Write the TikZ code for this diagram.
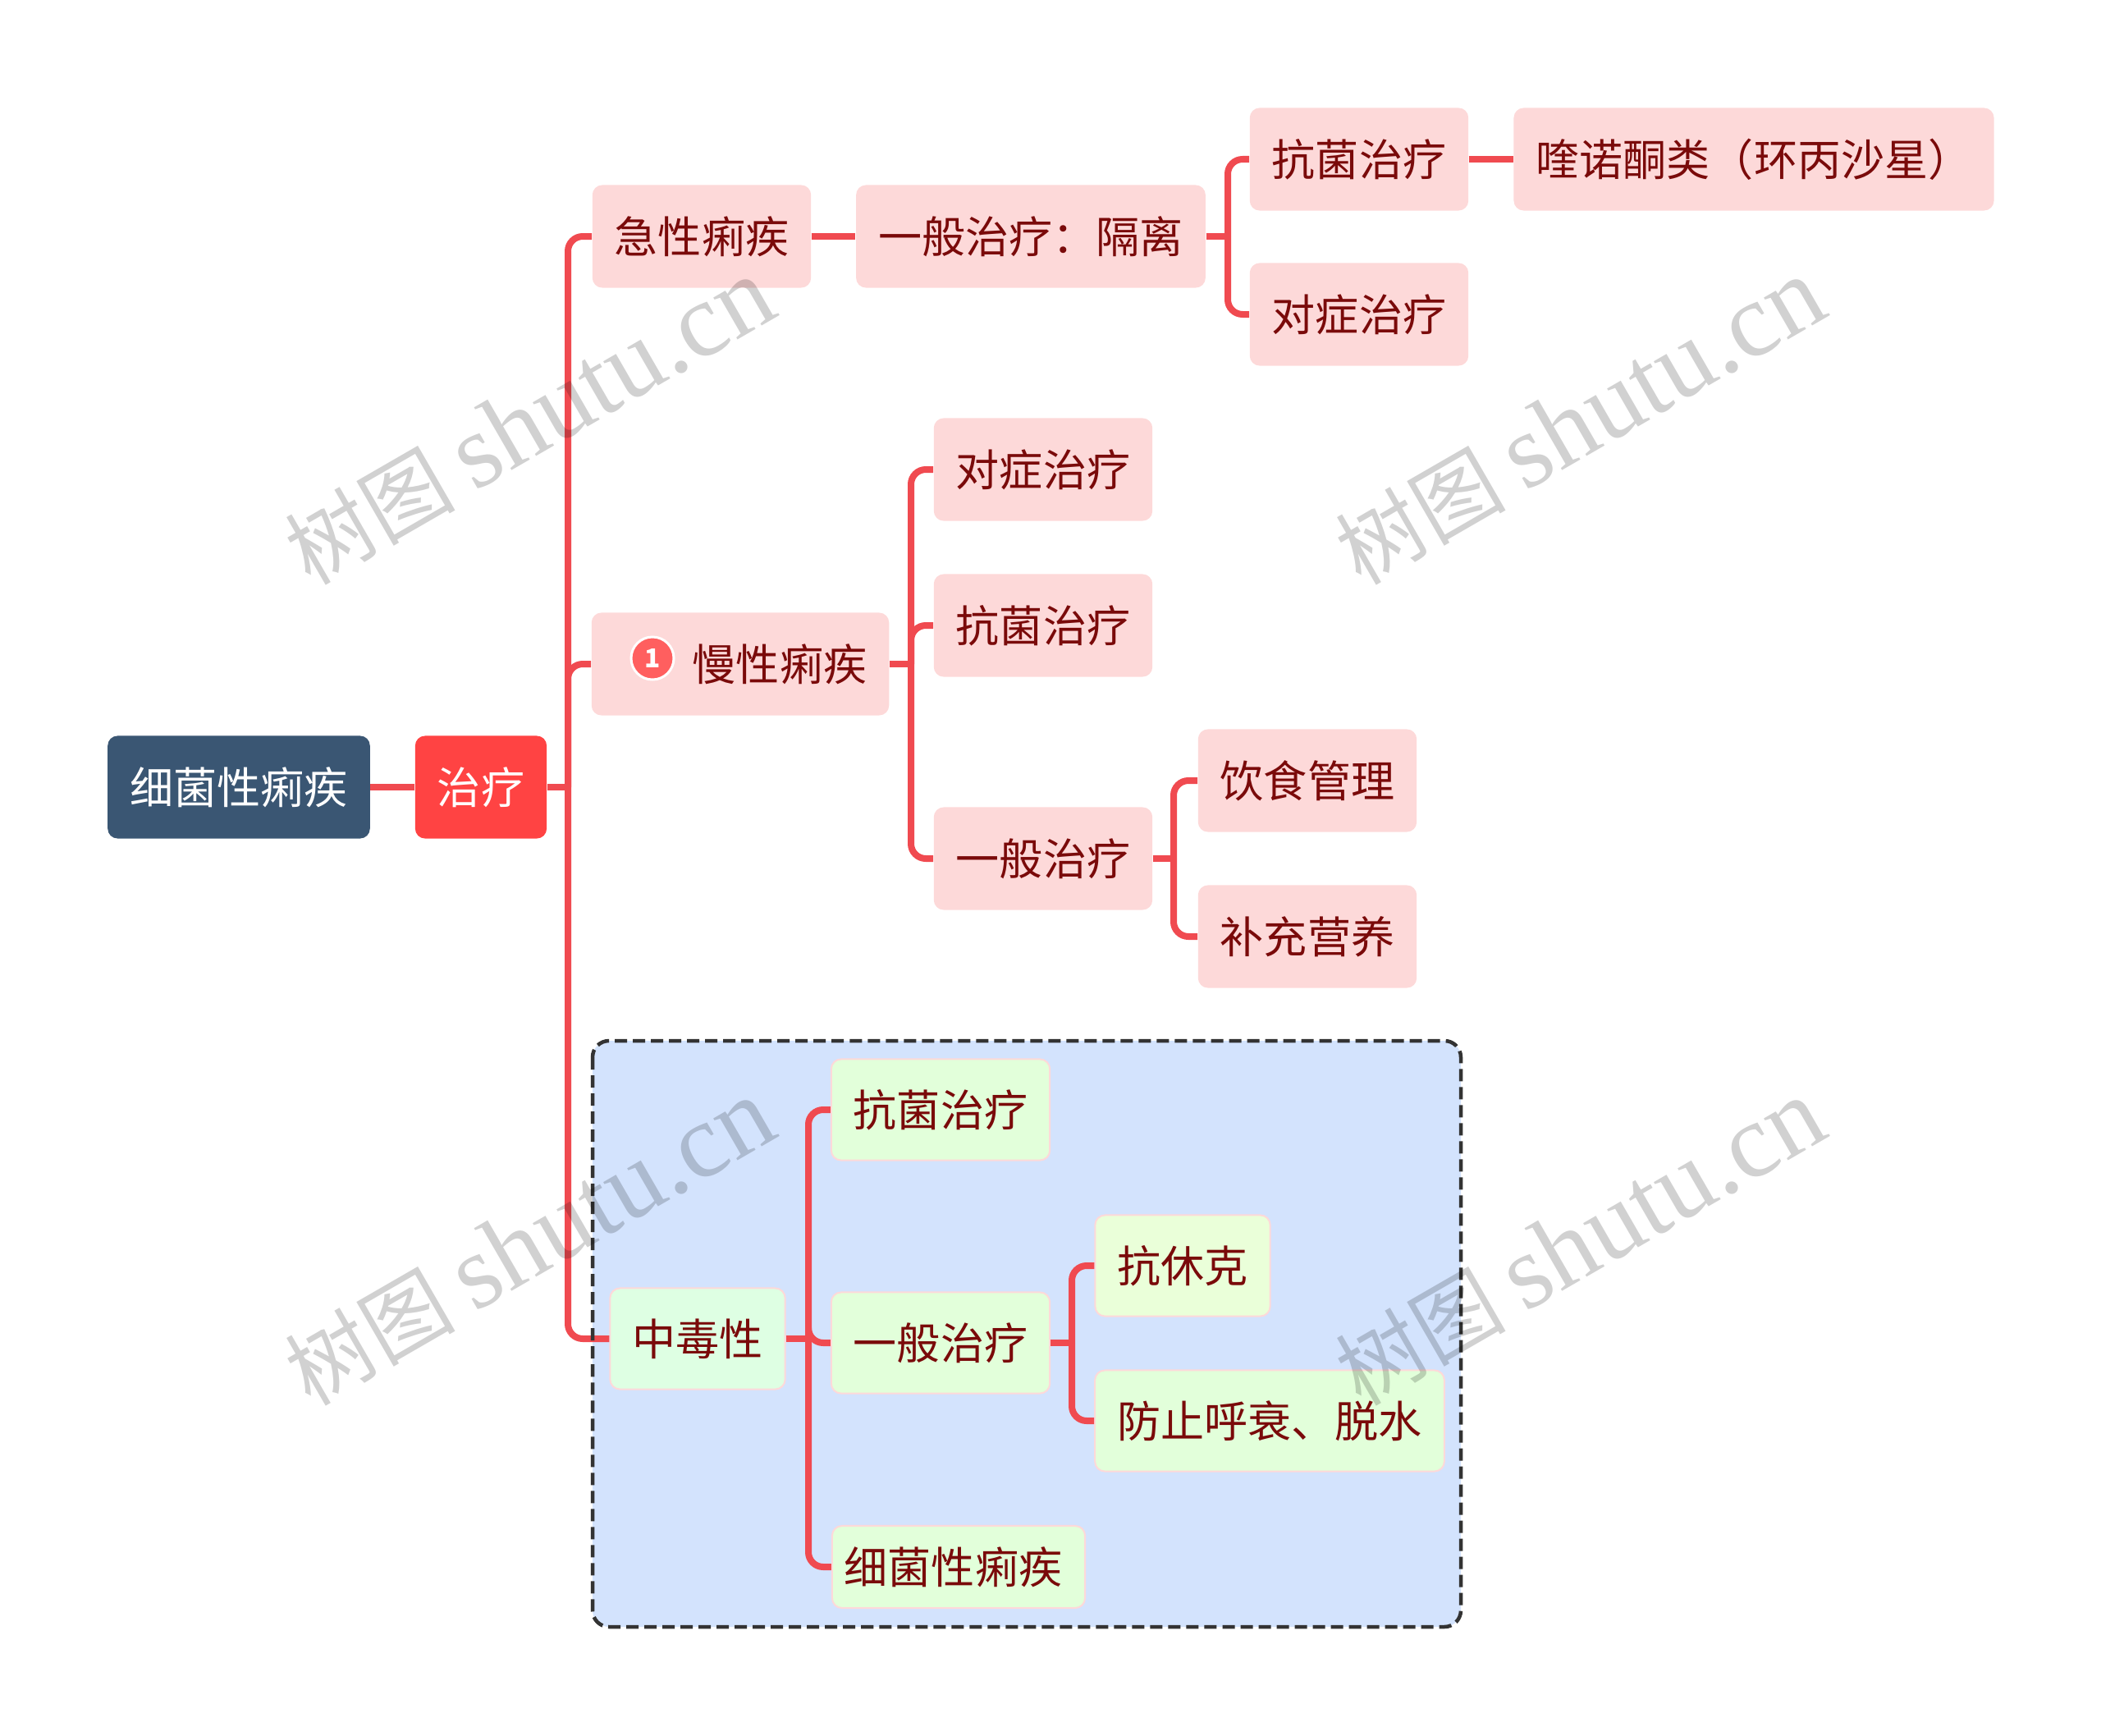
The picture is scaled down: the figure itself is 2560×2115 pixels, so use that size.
\documentclass[tikz,border=0pt]{standalone}
\usepackage{fontspec}
\setmainfont{Noto Sans CJK SC}
\newfontfamily\wmfont{Liberation Serif}
\definecolor{linkred}{HTML}{F04A50}
\definecolor{rootblue}{HTML}{3A5673}
\definecolor{topicred}{HTML}{FF4343}
\definecolor{pinkfill}{HTML}{FDD9D9}
\definecolor{darkred}{HTML}{7A0A0A}
\definecolor{greenfill}{HTML}{E2FFDA}
\definecolor{mintfill}{HTML}{DEFFE3}
\definecolor{limefill}{HTML}{EAFFD9}
\definecolor{groupblue}{HTML}{D3E3FD}
\definecolor{groupline}{HTML}{333333}
\tikzset{
    basebox/.style={rounded corners=0.12cm, minimum height=1.25cm, inner xsep=0.27cm, inner ysep=0pt,
        text height=0.47cm, text depth=0.07cm, font=\fontsize{15.1}{18}\selectfont},
    rootbox/.style={basebox, fill=rootblue, text=white},
    topicbox/.style={basebox, fill=topicred, text=white},
    pinkbox/.style={basebox, fill=pinkfill, text=darkred},
    greenbox/.style={basebox, fill=greenfill, draw=pinkfill, line width=0.02cm, text=darkred, minimum height=1.23cm},
    link/.style={draw=linkred, line width=0.08cm},
    branch/.style={link, rounded corners=0.18cm},
    watermark/.style={rotate=30, text=black, text opacity=0.18, inner sep=0pt, font=\fontsize{29.5}{40}\selectfont},
}
\begin{document}
\begin{tikzpicture}[x=0.01cm, y=-0.01cm]
            \useasboundingbox (0,0) rectangle (2560,2115);

% ---- Group background ----
            \fill[groupblue, rounded corners=0.2cm] (722,1268) rectangle (1780,1982);

% ---- Root and main topic ----
            \node[rootbox] (root) at (291,959) {细菌性痢疾};
            \node[topicbox] (zl) at (586,959) {治疗};

% ---- Acute branch ----
            \node[pinkbox] (jx) at (855,288) {急性痢疾};
            \node[pinkbox] (jxg) at (1256,288) {一般治疗\char"FF1A 隔离};
            \node[pinkbox] (jxk) at (1656,194) {抗菌治疗};
            \node[pinkbox] (jxq) at (2137,194) {喹诺酮类\char"FF08 环丙沙星\char"FF09};
            \node[pinkbox] (jxd) at (1656,383) {对症治疗};

% ---- Chronic branch ----
            \node[pinkbox] (mx) at (902,809) {\hspace*{0.96cm}慢性痢疾};
            \node[circle, fill=topicred!85!white, draw=white, line width=0.03cm, minimum size=0.52cm, inner sep=0pt,
                text=white, font=\bfseries\fontsize{9}{10}\selectfont] (bdg) at (795,802) {1};
            \node[pinkbox] (mxd) at (1271,572) {对症治疗};
            \node[pinkbox] (mxk) at (1271,762) {抗菌治疗};
            \node[pinkbox] (mxy) at (1271,1046) {一般治疗};
            \node[pinkbox] (mxys) at (1593,951) {饮食管理};
            \node[pinkbox] (mxyb) at (1593,1141) {补充营养};

% ---- Toxic branch ----
            \node[greenbox, fill=mintfill] (zd) at (850,1631) {中毒性};
            \node[greenbox] (zdk) at (1146,1352) {抗菌治疗};
            \node[greenbox] (zdy) at (1146,1636) {一般治疗};
            \node[greenbox, fill=limefill] (zdyk) at (1441,1542) {抗休克};
            \node[greenbox] (zdyf) at (1547,1731) {防止呼衰、脱水};
            \node[greenbox, inner xsep=0pt, minimum width=3.08cm, minimum height=1.0cm] (zdx) at (1168,1909) {\hspace*{-0.13cm}细菌性痢疾};

% ---- Straight links ----
            \foreach \from/\to in {root/zl, jx/jxg, jxk/jxq} {
                \draw[link] (\from.east) -- (\to.west);
            }

% ---- Spines (x of each one, then its children) ----
            \foreach \from/\sx/\kids in {zl/692/{jx,mx,zd}, jxg/1496/{jxk,jxd}, mx/1110/{mxd,mxk,mxy},
                mxy/1430/{mxys,mxyb}, zd/985/{zdk,zdy,zdx}, zdy/1306/{zdyk,zdyf}} {
                \coordinate (\from j) at (\sx,0 |- \from.east);
                \draw[link] (\from.east) -- (\from j);
                \foreach \to in \kids {
                    \draw[branch] (\from j) |- (\to.west);
                }
            }

% ---- Group border ----
            \draw[groupline, line width=0.045cm, dash pattern=on 0.15cm off 0.07cm, rounded corners=0.2cm]
                (722,1268) rectangle (1780,1982);

% ---- Watermarks ----
            \foreach \x/\y in {0/0, 1280/0, 0/1000, 1280/1000} {
                \node[watermark] (wm\x\y) at (645+\x,514+\y) {树图 {\wmfont\fontsize{36.5}{40}\selectfont shutu.cn}};
            }

        \end{tikzpicture}
\end{document}
